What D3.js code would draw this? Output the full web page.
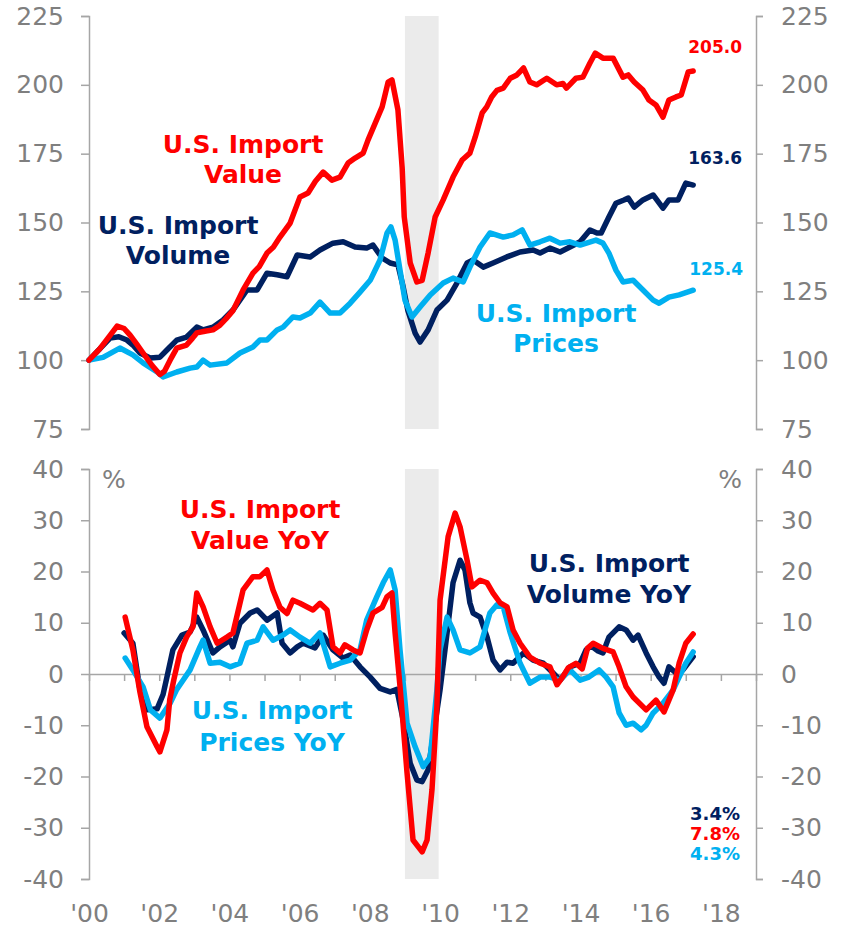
<!DOCTYPE html>
<html>
<head>
<meta charset="utf-8">
<script src="https://cdn.jsdelivr.net/npm/d3@7"></script>
<style>
  body { margin: 0; background: #fff; }
  svg { display: block; }
</style>
</head>
<body>
<script>
/*global d3*/

var width = 846, height = 927;

// top panel: index levels (2000 = 100)
var importValue = [
  [2000.0,100],[2000.3,104],[2000.6,109],[2000.8,112.4],[2001.0,111.5],[2001.17,109.1],[2001.35,106],
  [2001.54,102.6],[2001.8,98],[2002.02,94.8],[2002.15,96],[2002.31,100],[2002.5,104.4],[2002.78,105.5],
  [2002.95,108],[2003.07,109.9],[2003.3,110.5],[2003.53,111],[2003.73,112.7],[2003.9,115],[2004.1,118],
  [2004.39,125.5],[2004.67,131.6],[2004.85,134],[2005.07,138.9],[2005.25,141],[2005.44,144.7],[2005.73,149.8],
  [2006.01,159.3],[2006.24,160.7],[2006.45,165],[2006.67,168.3],[2006.92,165.4],[2007.15,166.5],[2007.38,171.6],
  [2007.58,173.4],[2007.81,175.2],[2007.95,180],[2008.15,186],[2008.35,192],[2008.52,201],[2008.63,201.8],
  [2008.8,190.9],[2008.92,170],[2008.98,152],[2009.15,135.3],[2009.34,128.4],[2009.49,129],[2009.66,138.9],
  [2009.86,152],[2010.09,158.2],[2010.37,166.5],[2010.63,172.7],[2010.85,175.2],[2011.0,181],[2011.2,189.8],
  [2011.33,192],[2011.47,195.6],[2011.62,198],[2011.8,198.8],[2012.0,202.4],[2012.19,203.6],[2012.38,206.1],
  [2012.56,201],[2012.75,200],[2013.04,202.4],[2013.32,200],[2013.5,200.5],[2013.6,198.8],[2013.87,202.4],
  [2014.07,202.8],[2014.27,207.9],[2014.42,211.5],[2014.64,209.7],[2014.93,209.7],[2015.21,202.8],[2015.36,203.6],
  [2015.53,201],[2015.78,198.1],[2015.95,194.5],[2016.15,192.7],[2016.35,188.3],[2016.52,194.5],[2016.72,195.6],
  [2016.87,196.3],[2017.07,204.7],[2017.21,205.0]
];

var importVolume = [
  [2000,100],[2000.3,104],[2000.6,108],[2000.85,108.5],[2001.08,107.3],[2001.25,105.5],[2001.45,102.6],
  [2001.74,100.8],[2002.02,101.1],[2002.22,103.7],[2002.5,107.3],[2002.78,108.4],[2003.07,112],[2003.25,111],
  [2003.53,112],[2003.82,114.6],[2004.1,118.2],[2004.5,125.5],[2004.79,125.5],[2005.07,131.6],[2005.36,131],
  [2005.64,130.3],[2005.93,138.2],[2006.3,137.5],[2006.58,140],[2006.95,142.5],[2007.24,143],[2007.58,141.1],
  [2007.91,140.7],[2008.09,141.8],[2008.35,137.1],[2008.58,135.3],[2008.8,134.6],[2008.95,126.6],[2009.08,118.2],
  [2009.29,109.8],[2009.43,106.6],[2009.66,111],[2009.91,118.2],[2010.2,121.8],[2010.48,128],[2010.77,135.3],
  [2010.94,136.4],[2011.23,133.8],[2011.51,135.3],[2011.9,137.5],[2012.28,139.3],[2012.65,140],[2012.85,138.9],
  [2013.13,140.7],[2013.42,139.3],[2013.7,141.1],[2013.99,143],[2014.27,147.3],[2014.47,146.2],[2014.59,146.2],
  [2014.81,152],[2015.01,157],[2015.24,158.2],[2015.36,158.9],[2015.53,155.6],[2015.78,158.2],[2016.07,160],
  [2016.35,155.2],[2016.52,158.2],[2016.78,158.2],[2017.0,164.3],[2017.21,163.6]
];

var importPrices = [
  [2000,100],[2000.4,101],[2000.88,104.4],[2001.25,101.9],[2001.54,99],[2001.94,95.7],[2002.11,93.9],
  [2002.5,95.7],[2002.88,97.1],[2003.07,97.5],[2003.25,100],[2003.45,98.2],[2003.93,99],[2004.3,102.6],
  [2004.67,104.8],[2004.87,107.3],[2005.07,107.3],[2005.36,111],[2005.53,112],[2005.81,115.7],[2006.01,115.3],
  [2006.3,117.1],[2006.58,121.1],[2006.87,117.1],[2007.15,117.1],[2007.44,120.7],[2007.72,124.7],[2008.01,129],
  [2008.29,136.4],[2008.49,146.2],[2008.6,148.4],[2008.72,143.6],[2008.86,132.7],[2009.0,121.8],[2009.2,115.7],
  [2009.43,119.3],[2009.72,123.7],[2010.09,128],[2010.37,129.8],[2010.66,128.4],[2010.85,133.8],[2011.14,141.1],
  [2011.42,146.2],[2011.8,144.7],[2012.08,145.5],[2012.34,147.3],[2012.56,141.8],[2012.85,143],[2013.13,144.3],
  [2013.42,142.5],[2013.7,143],[2013.99,141.8],[2014.44,143.6],[2014.64,142.5],[2014.81,138.9],[2015.01,132.7],
  [2015.21,128.4],[2015.5,129],[2015.78,125.5],[2016.07,121.8],[2016.24,120.7],[2016.52,122.9],[2016.81,123.7],
  [2017.21,125.4]
];

// bottom panel: year-over-year % change
var valueYoY = [
  [2001.03,11.1],[2001.25,4.7],[2001.45,-3.5],[2001.65,-10.3],[2001.94,-14.2],[2002.02,-15.2],[2002.22,-10.9],
  [2002.3,-5],[2002.42,-1],[2002.59,4.1],[2002.78,7.2],[2002.96,9.2],[2003.07,15.8],[2003.25,13.1],[2003.45,9.2],
  [2003.65,6],[2003.93,7.2],[2004.1,8],[2004.39,16.4],[2004.67,19],[2004.87,19],[2005.07,20.3],[2005.24,16.4],
  [2005.44,13],[2005.64,11.8],[2005.81,14.4],[2006.01,13.8],[2006.38,12.5],[2006.58,13.8],[2006.78,12.5],
  [2006.95,5.3],[2007.15,4.1],[2007.29,5.7],[2007.52,4.7],[2007.72,4.1],[2007.91,8.6],[2008.09,11.9],[2008.35,13],
  [2008.49,15.1],[2008.63,15.8],[2008.72,8],[2008.86,-2.5],[2009.06,-19.3],[2009.23,-32.4],[2009.49,-34.7],
  [2009.63,-32.4],[2009.77,-22.6],[2009.91,-6.4],[2010.0,14.4],[2010.23,26.8],[2010.43,31.4],[2010.57,28.7],
  [2010.77,22.2],[2010.91,17],[2011.14,18.3],[2011.34,17.8],[2011.51,15.8],[2011.71,13.9],[2011.91,13.1],
  [2012.08,8.6],[2012.28,6],[2012.56,3.3],[2012.85,2.1],[2013.13,1.4],[2013.33,-2.1],[2013.5,-0.5],[2013.65,1.2],
  [2013.87,2.1],[2014.05,1],[2014.2,5],[2014.36,6],[2014.64,5],[2014.93,4.3],[2015.1,1.4],[2015.3,-2.5],
  [2015.5,-4.5],[2015.87,-7],[2016.15,-5.1],[2016.38,-7.4],[2016.64,-3.1],[2016.81,2.1],[2017.0,6],[2017.21,7.8]
];

var volumeYoY = [
  [2001.0,8],[2001.25,6],[2001.45,-3],[2001.65,-7],[2001.94,-6.8],[2002.11,-4],[2002.22,-0.6],[2002.39,4.7],
  [2002.65,7.6],[2002.88,8.2],[2003.07,11.1],[2003.25,8.6],[2003.53,4.1],[2003.73,5.3],[2004.02,6.6],[2004.1,5.3],
  [2004.3,9.9],[2004.59,11.9],[2004.79,12.5],[2005.07,10.5],[2005.36,11.9],[2005.5,6],[2005.73,4.1],[2005.93,5.3],
  [2006.1,6],[2006.44,5.1],[2006.67,7.6],[2006.95,4.7],[2007.24,3.1],[2007.44,3.7],[2007.72,1.4],[2008.01,-0.6],
  [2008.29,-2.8],[2008.58,-3.5],[2008.77,-3],[2008.95,-9],[2009.15,-17.4],[2009.34,-20.7],[2009.49,-21],
  [2009.66,-18.7],[2009.86,-9.6],[2010.0,-3.1],[2010.2,8],[2010.37,17.8],[2010.57,22.2],[2010.71,20.3],
  [2010.85,13.9],[2010.94,11.9],[2011.14,11.1],[2011.34,7.2],[2011.51,2.7],[2011.71,0.8],[2011.91,2.3],
  [2012.08,2.1],[2012.38,4.1],[2012.65,2.7],[2012.94,2.1],[2013.22,0.2],[2013.42,-1.2],[2013.7,1.4],[2013.99,2.1],
  [2014.16,4.7],[2014.3,5.5],[2014.5,4.5],[2014.64,4.1],[2014.81,7.2],[2015.1,9.2],[2015.3,8.6],[2015.5,6.6],
  [2015.64,7.6],[2015.87,4.1],[2016.07,1.4],[2016.24,-0.6],[2016.38,-1.8],[2016.52,1.4],[2016.72,0.2],
  [2016.92,0.8],[2017.21,3.4]
];

var pricesYoY = [
  [2001.03,3.1],[2001.25,0.8],[2001.54,-2.5],[2001.75,-7],[2002.02,-8.6],[2002.31,-5.7],[2002.5,-3],
  [2002.65,-1.5],[2002.88,0.8],[2003.16,5.3],[2003.25,6.6],[2003.45,2.1],[2003.73,2.3],[2004.02,1.4],[2004.3,2.1],
  [2004.5,6],[2004.79,6.6],[2004.96,9.2],[2005.24,6.6],[2005.53,7.6],[2005.73,8.6],[2006.01,7.2],[2006.3,6],
  [2006.58,8],[2006.87,1.4],[2007.15,2.1],[2007.44,2.7],[2007.72,4.7],[2007.91,10.5],[2008.2,15.1],[2008.38,17.8],
  [2008.58,20.3],[2008.72,16.4],[2008.86,4.7],[2009.06,-9.6],[2009.29,-14.2],[2009.52,-18.1],[2009.72,-16.2],
  [2009.91,-3.1],[2010.0,4.7],[2010.2,11.1],[2010.37,8.6],[2010.57,4.7],[2010.85,4.1],[2011.14,5.3],[2011.42,11.9],
  [2011.62,13.5],[2011.8,13.1],[2012.0,8],[2012.28,2.1],[2012.56,-1.8],[2012.85,-0.6],[2013.13,-0.6],[2013.42,-1.2],
  [2013.7,0.8],[2013.99,-1.2],[2014.24,-0.6],[2014.53,0.8],[2014.73,-0.6],[2014.93,-2.5],[2015.1,-7.6],[2015.3,-10],
  [2015.5,-9.6],[2015.73,-10.9],[2015.87,-10],[2016.07,-7.6],[2016.35,-5.7],[2016.64,-3.1],[2016.81,-0.6],
  [2017.0,2.1],[2017.21,4.3]
];

var recession = [2009.0, 2009.96];
var topTicks = [75, 100, 125, 150, 175, 200, 225];
var bottomTicks = [-40, -30, -20, -10, 0, 10, 20, 30, 40];
var yearLabels = [2000, 2002, 2004, 2006, 2008, 2010, 2012, 2014, 2016, 2018];

var RED = "#ff0000", NAVY = "#002060", BLUE = "#00b0f0";
var AXIS = "#a6a6a6", LABEL = "#7f7f7f";
var FONT = "'DejaVu Sans', Verdana, sans-serif";

var svg = d3.select("body").append("svg")
    .attr("width", width)
    .attr("height", height)
    .style("font-family", FONT);

var x = d3.scaleLinear().domain([2000, 2019]).range([89, 756]);
var yTop = d3.scaleLinear().domain([75, 225]).range([429, 16]);
var yBot = d3.scaleLinear().domain([-40, 40]).range([879, 469]);

// recession shading
[yTop, yBot].forEach(function(y) {
  svg.append("rect")
      .attr("x", x(recession[0]))
      .attr("width", x(recession[1]) - x(recession[0]))
      .attr("y", y.range()[1])
      .attr("height", y.range()[0] - y.range()[1])
      .attr("fill", "#ebebeb");
});

function styleAxis(g) {
  g.selectAll(".domain").attr("stroke", AXIS).attr("stroke-width", 1.5);
  g.selectAll(".tick line").attr("stroke", AXIS).attr("stroke-width", 1.5);
  g.selectAll("text").attr("fill", LABEL).style("font-size", "25px").style("font-family", FONT);
}

var plain = function(d) { return String(d); };   // keep the hyphen minus

// y axes
[[yTop, topTicks], [yBot, bottomTicks]].forEach(function(p) {
  svg.append("g")
      .attr("transform", "translate(89,0)")
      .call(d3.axisLeft(p[0]).tickValues(p[1]).tickFormat(plain).tickSize(8).tickPadding(17).tickSizeOuter(8))
      .call(styleAxis);
  svg.append("g")
      .attr("transform", "translate(756,0)")
      .call(d3.axisRight(p[0]).tickValues(p[1]).tickFormat(plain).tickSize(7).tickPadding(18).tickSizeOuter(7))
      .call(styleAxis);
});

// zero line with yearly ticks
svg.append("g")
    .attr("transform", "translate(0," + yBot(0) + ")")
    .call(d3.axisBottom(x).tickValues(d3.range(2000, 2020)).tickSize(7).tickSizeOuter(0).tickFormat(""))
    .call(styleAxis);

// year labels
svg.append("g")
    .attr("transform", "translate(0," + yBot(-40) + ")")
    .call(d3.axisBottom(x).tickValues(yearLabels).tickSize(0).tickPadding(25)
      .tickFormat(function(d) { return "'" + String(d).slice(2); }))
    .call(styleAxis)
    .call(function(g) { g.select(".domain").remove(); });

// lines
function drawLine(data, y, color) {
  var line = d3.line()
      .x(function(d) { return x(d[0]); })
      .y(function(d) { return y(d[1]); });
  svg.append("path")
      .datum(data)
      .attr("d", line)
      .attr("fill", "none")
      .attr("stroke", color)
      .attr("stroke-width", 5.5)
      .attr("stroke-linejoin", "round")
      .attr("stroke-linecap", "round");
}

drawLine(importVolume, yTop, NAVY);
drawLine(importPrices, yTop, BLUE);
drawLine(importValue, yTop, RED);

drawLine(volumeYoY, yBot, NAVY);
drawLine(pricesYoY, yBot, BLUE);
drawLine(valueYoY, yBot, RED);

// annotations
function label(lines, cx, baseline, color, size, anchor, lh) {
  var t = svg.append("text")
      .attr("fill", color)
      .attr("font-weight", "bold")
      .attr("font-size", size)
      .attr("text-anchor", anchor || "middle");
  lines.forEach(function(s, i) {
    t.append("tspan").attr("x", cx).attr("y", baseline + i * (lh || 30)).text(s);
  });
}

label(["U.S. Import", "Value"], 243, 153, RED, 25);
label(["U.S. Import", "Volume"], 178, 234, NAVY, 25);
label(["U.S. Import", "Prices"], 556, 322, BLUE, 25);

label(["205.0"], 742, 53, RED, 17, "end");
label(["163.6"], 742, 164, NAVY, 17, "end");
label(["125.4"], 743, 275, BLUE, 17, "end");

label(["U.S. Import", "Value YoY"], 260, 518, RED, 25, "middle", 31);
label(["U.S. Import", "Volume YoY"], 609, 572, NAVY, 25, "middle", 31);
label(["U.S. Import", "Prices YoY"], 272, 719, BLUE, 25, "middle", 32);

label(["3.4%"], 740, 820, NAVY, 18, "end");
label(["7.8%"], 740, 840, RED, 18, "end");
label(["4.3%"], 740, 860, BLUE, 18, "end");

// percent markers
svg.append("text").attr("x", 102).attr("y", 488).attr("fill", LABEL)
    .attr("font-size", 25).text("%");
svg.append("text").attr("x", 742).attr("y", 488).attr("fill", LABEL)
    .attr("font-size", 25).attr("text-anchor", "end").text("%");
</script>
</body>
</html>
